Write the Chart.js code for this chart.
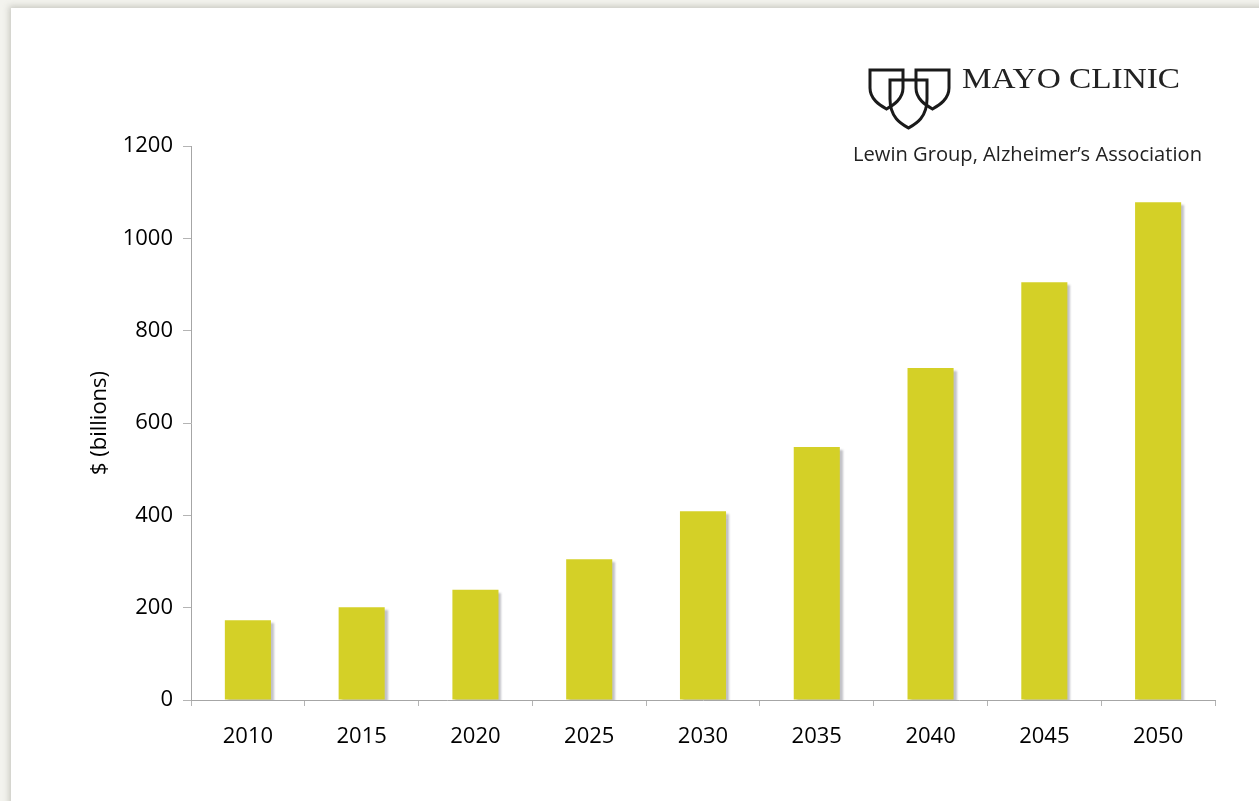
<!DOCTYPE html>
<html>
<head>
<meta charset="utf-8">
<script src="https://cdn.jsdelivr.net/npm/chart.js@4.4.1/dist/chart.umd.min.js"></script>
<style>
  html, body { margin: 0; padding: 0; width: 1259px; height: 801px; overflow: hidden; background: #f3f3ee; }
  #card { position: absolute; left: 11px; top: 8px; width: 1300px; height: 850px; background: #ffffff;
          box-shadow: -2px -2px 6px rgba(150,150,140,0.45); }
  #wrap { position: absolute; left: 0; top: 0; width: 1259px; height: 801px; }
</style>
</head>
<body>
<div id="card"></div>
<div id="wrap"><canvas id="c" width="1259" height="801"></canvas></div>
<script>
const categories = ['2010', '2015', '2020', '2025', '2030', '2035', '2040', '2045', '2050'];
const costBillions = [173, 201, 239, 305, 409, 548, 719, 905, 1078];
const yTicks = [0, 200, 400, 600, 800, 1000, 1200];
const yAxisTitle = '$ (billions)';
const logoName = 'MAYO CLINIC';
const sourceText = 'Lewin Group, Alzheimer\u2019s Association';

const barShadow = {
  id: 'barShadow',
  beforeDatasetsDraw(chart) {
    const ctx = chart.ctx;
    ctx.save();
    ctx.shadowColor = 'rgba(120,120,130,0.45)';
    ctx.shadowOffsetX = 3;
    ctx.shadowOffsetY = 3;
    ctx.shadowBlur = 2;
  },
  afterDatasetsDraw(chart) {
    chart.ctx.restore();
  }
};

function shield(ctx, x0, x1, y0, ym, yb) {
  const cx = (x0 + x1) / 2;
  ctx.beginPath();
  ctx.moveTo(x0, ym);
  ctx.lineTo(x0, y0);
  ctx.lineTo(x1, y0);
  ctx.lineTo(x1, ym);
  ctx.bezierCurveTo(x1, yb - 10, cx + 7, yb - 4, cx, yb);
  ctx.bezierCurveTo(cx - 7, yb - 4, x0, yb - 10, x0, ym);
  ctx.closePath();
  ctx.stroke();
}

const logoPlugin = {
  id: 'logoPlugin',
  afterDraw(chart) {
    const ctx = chart.ctx;
    ctx.save();
    ctx.strokeStyle = '#1a1a1a';
    ctx.lineWidth = 3;
    ctx.lineJoin = 'miter';
    shield(ctx, 870, 903, 70, 88, 109);
    shield(ctx, 916, 949, 70, 88, 109);
    shield(ctx, 890, 927, 80, 99, 128);

    // MAYO CLINIC wordmark
    ctx.fillStyle = '#222';
    ctx.font = '29px "Liberation Serif", "DejaVu Serif", serif';
    ctx.textBaseline = 'alphabetic';
    let w = ctx.measureText(logoName).width;
    ctx.save();
    ctx.translate(962, 88);
    ctx.scale(218 / w, 1);
    ctx.fillText(logoName, 0, 0);
    ctx.restore();

    // source text
    ctx.fillStyle = '#222';
    ctx.font = '20px "Open Sans", sans-serif';
    w = ctx.measureText(sourceText).width;
    ctx.save();
    ctx.translate(853, 161);
    ctx.scale(349 / w, 1);
    ctx.fillText(sourceText, 0, 0);
    ctx.restore();
    ctx.restore();
  }
};

new Chart(document.getElementById('c'), {
  type: 'bar',
  data: {
    labels: categories,
    datasets: [{
      data: costBillions,
      backgroundColor: '#d4d027',
      borderWidth: 0,
      barPercentage: 0.405,
      categoryPercentage: 1.0
    }]
  },
  options: {
    responsive: false,
    animation: false,
    devicePixelRatio: 1,
    layout: { padding: { left: 80, right: 44, top: 146, bottom: 41 } },
    plugins: {
      legend: { display: false },
      tooltip: { enabled: false },
      title: { display: false }
    },
    scales: {
      x: {
        offset: true,
        grid: { display: true, offset: true, drawOnChartArea: false, drawTicks: true, tickLength: 6, color: '#b4b4b4', lineWidth: 1 },
        border: { display: true, color: '#a6a6a6', width: 1 },
        ticks: { color: '#000', font: { family: '"Open Sans", sans-serif', size: 22 }, padding: 18, maxRotation: 0 },
        afterFit(scale) { scale.height = 60; }
      },
      y: {
        min: 0,
        max: 1200,
        afterBuildTicks(scale) { scale.ticks = yTicks.map(v => ({ value: v })); },
        grid: { display: true, drawOnChartArea: false, drawTicks: true, tickLength: 8, color: '#b4b4b4', lineWidth: 1 },
        border: { display: true, color: '#a6a6a6', width: 1 },
        ticks: { color: '#000', font: { family: '"Open Sans", sans-serif', size: 22 }, padding: 10,
                 callback: v => String(v) },
        title: {
          display: true,
          text: yAxisTitle,
          color: '#000',
          font: { family: '"Open Sans", sans-serif', size: 22 },
          padding: { top: 7, bottom: 0 }
        },
        afterFit(scale) { scale.width = 111; }
      }
    }
  },
  plugins: [barShadow, logoPlugin]
});
</script>
</body>
</html>
